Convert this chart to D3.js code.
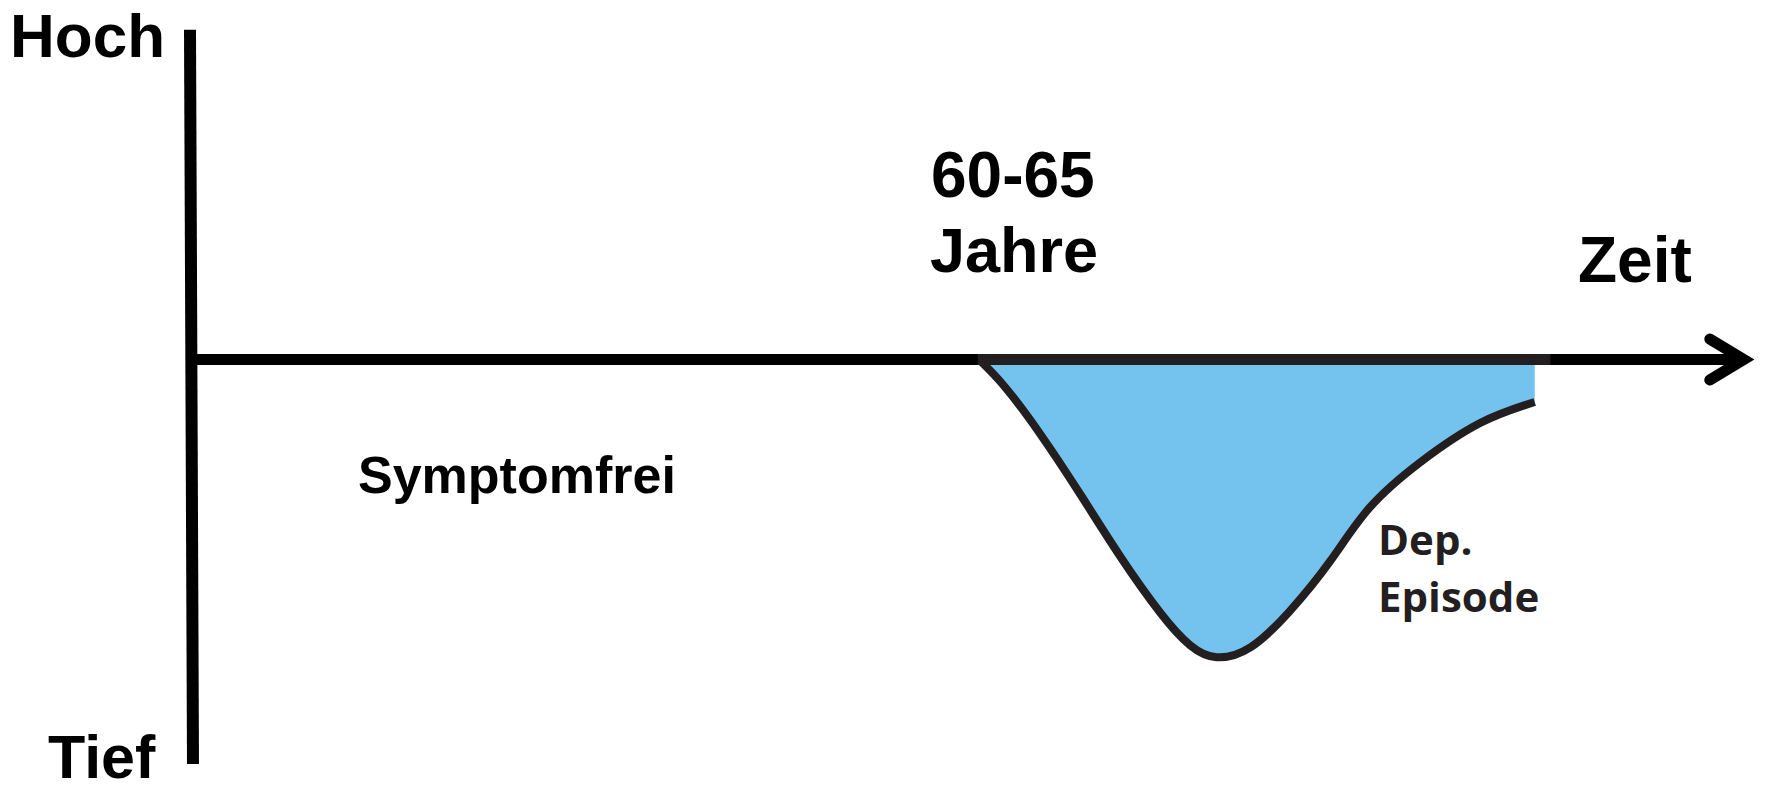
<!DOCTYPE html>
<html>
<head>
<meta charset="utf-8">
<script src="https://cdn.jsdelivr.net/npm/d3@7"></script>
<style>
  html, body { margin: 0; padding: 0; background: #ffffff; }
  svg { display: block; }
</style>
</head>
<body>
<svg id="chart" width="1769" height="792"></svg>
<script>
// ---- data ----
const axisLabels = { high: "Hoch", low: "Tief", time: "Zeit" };
const ageLabel = ["60-65", "Jahre"];
const phaseLabel = "Symptomfrei";
const episodeLabel = ["Dep.", "Episode"];
// time (0..100) and mood (negative = depressed) along the depressive episode
const episodeTime = [50.6, 52.2, 54.5, 57.1, 59.6, 62.2, 64.1, 65.8, 68.0, 70.5, 73.1, 75.6, 78.9, 82.7, 86.2];
const episodeMood = [-0.1, -6.6, -18.4, -33.5, -48.5, -62.6, -70.6, -73.6, -71.1, -62.2, -49.8, -36.7, -25.3, -15.7, -10.5];
const episodeSpan = [50.5, 87.2];
const moodRange = [-100, 81.5];
const timeRange = [0, 100];

// ---- scales ----
const svg = d3.select("#chart");
const x = d3.scaleLinear().domain(timeRange).range([190, 1750]);
const y = d3.scaleLinear().domain([-100, 0]).range([764, 359.5]);

const pts = episodeTime.map((t, i) => ({ t, m: episodeMood[i] }));
const curve = d3.curveNatural;

// fill
const area = d3.area()
  .x(d => x(d.t))
  .y0(y(0))
  .y1(d => y(d.m))
  .curve(curve);
svg.append("path")
  .datum(pts)
  .attr("d", area)
  .attr("fill", "#74c3ee");

// curve outline
const line = d3.line()
  .x(d => x(d.t))
  .y(d => y(d.m))
  .curve(curve);
svg.append("path")
  .datum(pts)
  .attr("d", line)
  .attr("fill", "none")
  .attr("stroke", "#231f20")
  .attr("stroke-width", 8)
  .attr("stroke-linejoin", "round");

// vertical axis
svg.append("line")
  .attr("x1", x(0)).attr("y1", y(moodRange[1]))
  .attr("x2", x(0) + 3).attr("y2", y(moodRange[0]))
  .attr("stroke", "#000").attr("stroke-width", 12);

// horizontal axis
svg.append("line")
  .attr("x1", x(0)).attr("y1", y(0))
  .attr("x2", x(99.6)).attr("y2", y(0))
  .attr("stroke", "#000").attr("stroke-width", 11);

// episode segment on the axis
svg.append("line")
  .attr("x1", x(episodeSpan[0])).attr("y1", y(0))
  .attr("x2", x(episodeSpan[1])).attr("y2", y(0))
  .attr("stroke", "#231f20").attr("stroke-width", 11);

// arrow head
const tipX = x(99.6), tipY = y(0);
svg.append("path")
  .attr("d", `M${tipX - 34},${tipY - 20.5} L${tipX},${tipY} L${tipX - 34},${tipY + 20.5}`)
  .attr("fill", "none")
  .attr("stroke", "#000")
  .attr("stroke-width", 11)
  .attr("stroke-linecap", "round")
  .attr("stroke-linejoin", "miter");

// labels
const bold = "'Liberation Sans', Arial, Helvetica, sans-serif";
function label(txt, px, py, size, opts = {}) {
  svg.append("text")
    .attr("x", px).attr("y", py)
    .attr("font-family", opts.family || bold)
    .attr("font-weight", opts.weight || "bold")
    .attr("font-size", size)
    .attr("fill", opts.fill || "#000")
    .text(txt);
}
label(axisLabels.high, 10, 57, 62);
label(axisLabels.low, 48, 778, 61);
label(axisLabels.time, 1578, 282, 64);
label(ageLabel[0], 931, 197, 64);
label(ageLabel[1], 930, 272, 63);
label(phaseLabel, 358, 493, 52);
label(episodeLabel[0], 1378, 555, 42, { family: "'Open Sans', sans-serif", weight: 700, fill: "#231f20" });
label(episodeLabel[1], 1378, 612, 42, { family: "'Open Sans', sans-serif", weight: 700, fill: "#231f20" });
</script>
</body>
</html>
